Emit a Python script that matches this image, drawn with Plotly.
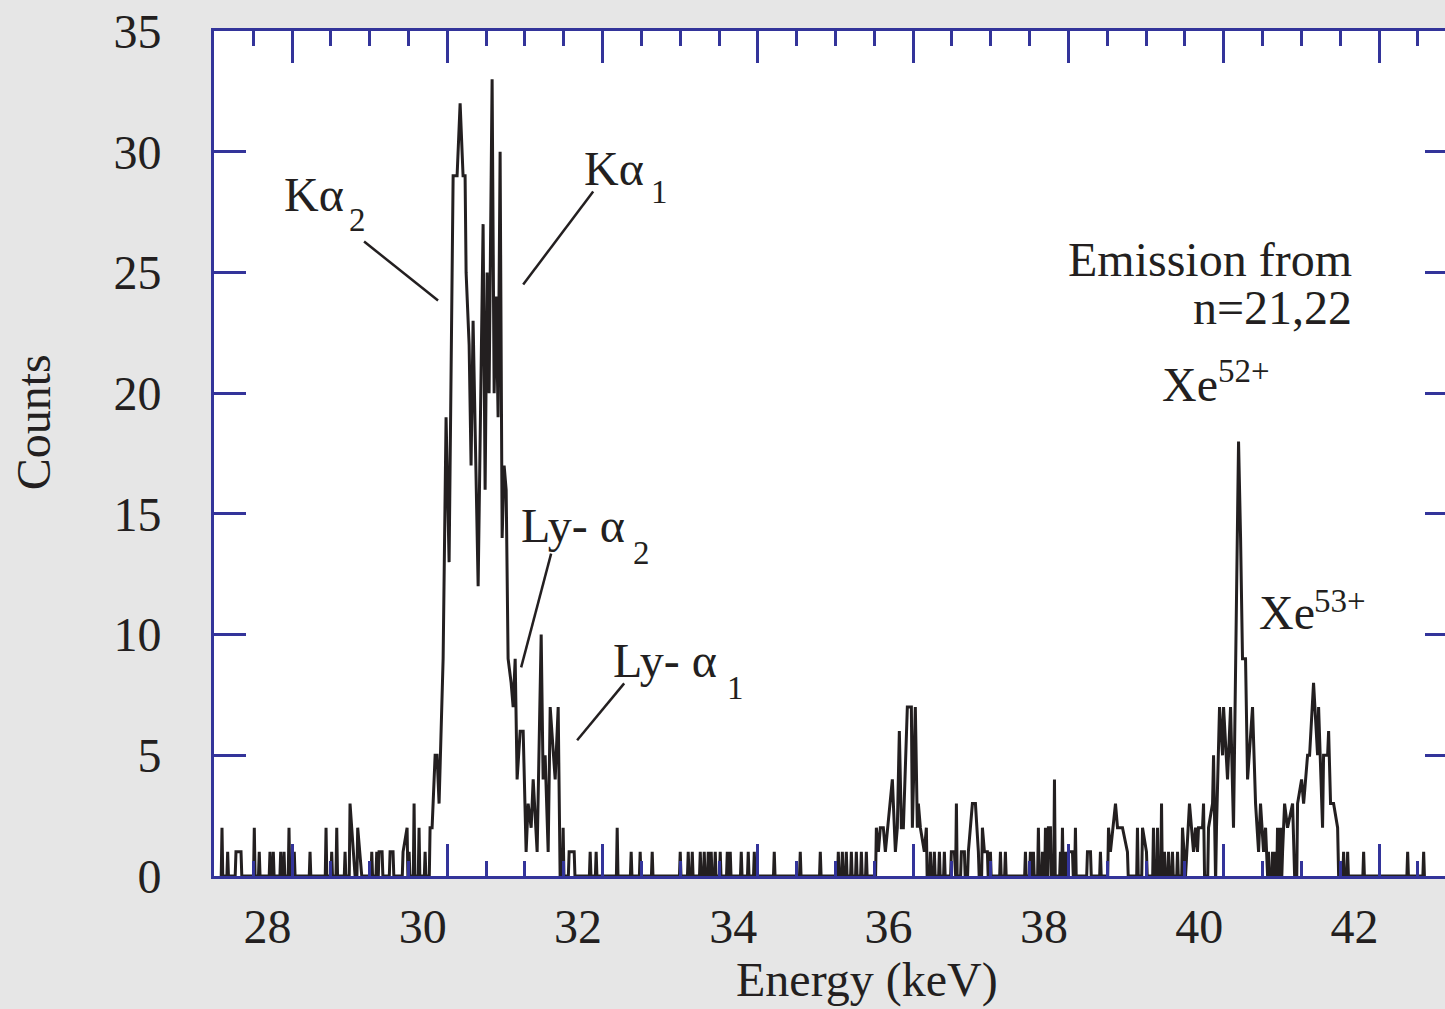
import plotly.graph_objects as go

# ---------------- data (energy in keV, counts) ----------------
# Each run is a group of neighbouring non-empty channels: (energy, counts)
low_energy_runs = [
    [(27.414, 2)], [(27.487, 1)], [(27.594, 1), (27.659, 1)], [(27.830, 2)],
    [(27.894, 1)], [(28.032, 1)], [(28.075, 1)], [(28.170, 1)], [(28.213, 1)],
    [(28.277, 2)], [(28.345, 1)], [(28.548, 1)], [(28.754, 2)], [(28.827, 1)],
    [(28.892, 2)], [(28.999, 1)], [(29.063, 3), (29.128, 0)],
    [(29.162, 2), (29.214, 0)], [(29.343, 1)], [(29.407, 1)],
    [(29.437, 1), (29.476, 1)], [(29.579, 1), (29.617, 1)],
    [(29.746, 1), (29.798, 2)], [(29.824, 1)], [(29.888, 3)], [(29.952, 2)],
    [(30.030, 1)],
]

k_alpha_runs = [
    [(30.094, 2), (30.120, 2), (30.159, 5), (30.184, 5), (30.210, 3), (30.262, 9),
     (30.300, 19), (30.339, 13), (30.391, 29), (30.442, 29), (30.481, 32),
     (30.519, 29), (30.545, 29), (30.558, 25), (30.597, 22), (30.622, 17),
     (30.648, 23), (30.674, 19), (30.713, 12), (30.777, 27), (30.803, 16),
     (30.829, 25), (30.854, 20), (30.893, 33), (30.919, 20), (30.945, 24),
     (30.970, 19), (30.996, 30), (31.022, 14), (31.048, 17), (31.074, 16),
     (31.099, 9), (31.138, 8), (31.164, 7), (31.190, 9), (31.215, 4),
     (31.254, 6), (31.293, 6), (31.331, 1), (31.357, 3), (31.396, 2),
     (31.422, 4), (31.473, 1), (31.525, 10), (31.550, 4), (31.576, 5),
     (31.615, 1), (31.641, 7), (31.679, 5), (31.705, 4), (31.744, 7),
     (31.769, 0)],
    [(31.808, 2)], [(31.885, 1), (31.950, 1)],
]

mid_runs = [
    [(32.156, 1)], [(32.233, 1)], [(32.504, 2)], [(32.684, 1)], [(32.800, 1)],
    [(32.955, 1)], [(33.316, 1)], [(33.419, 1)], [(33.471, 1)], [(33.574, 1)],
    [(33.625, 1)], [(33.677, 1)], [(33.715, 1)], [(33.767, 1)], [(33.831, 1)],
    [(33.922, 1)], [(33.960, 1)], [(34.102, 1)], [(34.192, 1)], [(34.270, 1)],
    [(34.527, 1)], [(34.862, 1)], [(35.120, 1)], [(35.352, 1)], [(35.404, 1)],
    [(35.455, 1)], [(35.520, 1)], [(35.584, 1)], [(35.649, 1)], [(35.713, 1)],
]

n21_runs = [
    [(35.842, 2), (35.868, 1), (35.893, 2), (35.932, 2), (35.958, 1), (36.048, 4),
     (36.087, 1), (36.112, 2), (36.138, 6), (36.164, 2), (36.190, 2), (36.241, 7),
     (36.293, 7), (36.306, 2), (36.344, 7), (36.370, 2), (36.383, 3), (36.409, 2),
     (36.460, 1), (36.486, 2)],
    [(36.538, 1)], [(36.589, 1)], [(36.654, 1)], [(36.718, 1)],
    [(36.808, 1), (36.847, 1)], [(36.873, 3)], [(36.937, 1), (36.976, 1)],
    [(37.027, 1), (37.079, 3), (37.118, 3), (37.156, 1)],
    [(37.208, 2), (37.234, 1), (37.272, 1)], [(37.311, 1)], [(37.440, 1)],
    [(37.504, 1)], [(37.762, 1)], [(37.826, 1)], [(37.865, 1)], [(37.929, 2)],
    [(37.981, 1)],
    [(38.020, 2)], [(38.058, 2), (38.084, 2)], [(38.136, 4)], [(38.213, 1)],
    [(38.239, 2)], [(38.277, 1)], [(38.316, 1), (38.368, 1)], [(38.406, 2)],
    [(38.561, 1), (38.600, 1)], [(38.728, 1)],
    [(38.832, 2), (38.857, 1), (38.922, 3), (38.948, 2), (39.012, 2), (39.076, 1)],
    [(39.205, 2)], [(39.270, 2), (39.321, 1)], [(39.411, 2)], [(39.463, 2)],
    [(39.515, 3)], [(39.553, 1)], [(39.605, 1)], [(39.656, 1)], [(39.721, 1)],
]

xe_runs = [
    [(39.785, 2), (39.824, 0), (39.875, 3), (39.927, 1), (39.953, 2), (39.978, 1),
     (39.991, 2), (40.043, 2), (40.056, 3), (40.069, 0)],
    [(40.120, 2), (40.172, 3), (40.185, 5), (40.210, 0)],
    [(40.223, 2), (40.262, 7), (40.301, 5), (40.314, 7), (40.365, 4), (40.404, 7),
     (40.442, 2), (40.507, 18), (40.533, 14), (40.558, 9), (40.597, 9),
     (40.623, 4), (40.687, 7), (40.726, 3), (40.765, 1), (40.790, 3),
     (40.829, 1), (40.855, 2), (40.881, 0)],
    [(40.893, 1)], [(40.945, 1)], [(40.971, 1)], [(41.009, 2)], [(41.048, 2)],
    [(41.074, 1), (41.100, 3), (41.138, 2), (41.203, 3), (41.229, 0)],
    [(41.267, 3), (41.319, 4), (41.345, 3), (41.396, 5), (41.422, 5), (41.461, 7),
     (41.473, 8), (41.525, 5), (41.538, 7), (41.589, 2), (41.602, 5), (41.654, 5),
     (41.667, 6), (41.692, 3), (41.731, 3), (41.783, 2), (41.796, 0)],
    [(41.860, 1)], [(41.912, 1)], [(42.118, 1)], [(42.685, 1)], [(42.891, 1)],
]

x_range = [27.311, 43.166]
y_range = [0, 35]
x_label_values = [28, 30, 32, 34, 36, 38, 40, 42]
x_tick_marks = [28.316, 30.316, 32.316, 34.316, 36.316, 38.316, 40.316, 42.316]
y_values = [0, 5, 10, 15, 20, 25, 30, 35]

NAVY = "#33349a"
INK = "#231f20"
BG = "#e6e6e6"
FONT = "Liberation Serif"
FS = 48


def expand(runs, half=0.01):
    xs, ys = [], []
    for run in runs:
        xs.append(run[0][0] - half)
        ys.append(0)
        for e, c in run:
            xs.append(e)
            ys.append(c)
        xs.append(run[-1][0] + half)
        ys.append(0)
    return xs, ys


all_runs = low_energy_runs + k_alpha_runs + mid_runs + n21_runs + xe_runs
xs, ys = expand(all_runs)

fig = go.Figure()
fig.add_trace(go.Scatter(x=xs, y=ys, mode="lines",
                         line=dict(color=INK, width=3), showlegend=False,
                         hoverinfo="skip"))

fig.update_layout(
    width=1445, height=1009,
    margin=dict(l=214, r=0, t=31, b=133),
    paper_bgcolor=BG, plot_bgcolor="white",
    font=dict(family=FONT, size=FS, color=INK),
    xaxis=dict(range=x_range, tickmode="array", tickvals=x_label_values,
               ticktext=[str(v) for v in x_label_values], ticks="",
               showline=False, showgrid=False, zeroline=False,
               tickfont=dict(family=FONT, size=FS, color=INK),
               ticklabelstandoff=18),
    xaxis2=dict(range=x_range, overlaying="x", side="bottom", anchor="y",
                tickmode="array", tickvals=x_tick_marks, ticks="inside",
                ticklen=32, tickwidth=3, tickcolor=NAVY, showticklabels=False,
                showline=True, linecolor=NAVY, linewidth=3, mirror="ticks",
                showgrid=False, zeroline=False,
                minor=dict(tickmode="linear", tick0=27.816, dtick=0.5,
                           ticks="inside", ticklen=15, tickwidth=3,
                           tickcolor=NAVY, showgrid=False)),
    yaxis=dict(range=y_range, tickmode="array", tickvals=y_values,
               ticks="inside", ticklen=32, tickwidth=3, tickcolor=NAVY,
               showline=True, linecolor=NAVY, linewidth=3, mirror=False,
               showgrid=False, zeroline=False,
               tickfont=dict(family=FONT, size=FS, color=INK),
               ticklabelstandoff=40),
    yaxis2=dict(range=y_range, overlaying="y", side="right", anchor="x",
                tickmode="array", tickvals=y_values, ticks="inside",
                ticklen=20, tickwidth=3, tickcolor=NAVY, showticklabels=False,
                showline=False, showgrid=False, zeroline=False),
)

# invisible trace to activate secondary axes
fig.add_trace(go.Scatter(x=[x_range[0]], y=[0], xaxis="x2", yaxis="y2",
                         mode="markers", marker=dict(opacity=0), showlegend=False,
                         hoverinfo="skip"))

SUB = 33


def label(x, y, text, size=FS, xanchor="center"):
    fig.add_annotation(x=x, y=y, xref="x", yref="y", text=text, showarrow=False,
                       font=dict(family=FONT, size=size, color=INK),
                       xanchor=xanchor, yanchor="middle")


label(28.599, 28.22, "Kα")
label(29.153, 27.19, "2", SUB)
label(32.465, 29.30, "Kα")
label(33.046, 28.35, "1", SUB)
label(31.937, 14.50, "Ly- α")
label(32.813, 13.39, "2", SUB)
label(33.123, 8.93, "Ly- α")
label(34.025, 7.77, "1", SUB)
label(41.99, 25.54, "Emission from", xanchor="right")
label(41.99, 23.55, "n=21,22", xanchor="right")
label(39.888, 20.37, "Xe")
label(40.571, 20.91, "52+", SUB)
label(41.125, 10.91, "Xe")
label(41.808, 11.40, "53+", SUB)

pointers = [
    (29.244, 26.28, 30.197, 23.84),
    (32.195, 28.35, 31.293, 24.50),
    (31.653, 13.35, 31.267, 8.64),
    (32.594, 7.98, 31.988, 5.62),
]
for x0, y0, x1, y1 in pointers:
    fig.add_shape(type="line", xref="x", yref="y", x0=x0, y0=y0, x1=x1, y1=y1,
                  line=dict(color=INK, width=2.5))

fig.add_annotation(x=0.5305, y=-0.1235, xref="paper", yref="paper",
                   text="Energy (keV)", showarrow=False,
                   font=dict(family=FONT, size=FS, color=INK),
                   xanchor="center", yanchor="middle")
fig.add_annotation(x=-0.147, y=0.537, xref="paper", yref="paper",
                   text="Counts", showarrow=False, textangle=-90,
                   font=dict(family=FONT, size=FS, color=INK),
                   xanchor="center", yanchor="middle")

fig.write_html(
    "out.html",
    config={"displayModeBar": False},
    post_script="document.body.style.margin='0';"
                "document.body.style.background='" + BG + "';",
)
